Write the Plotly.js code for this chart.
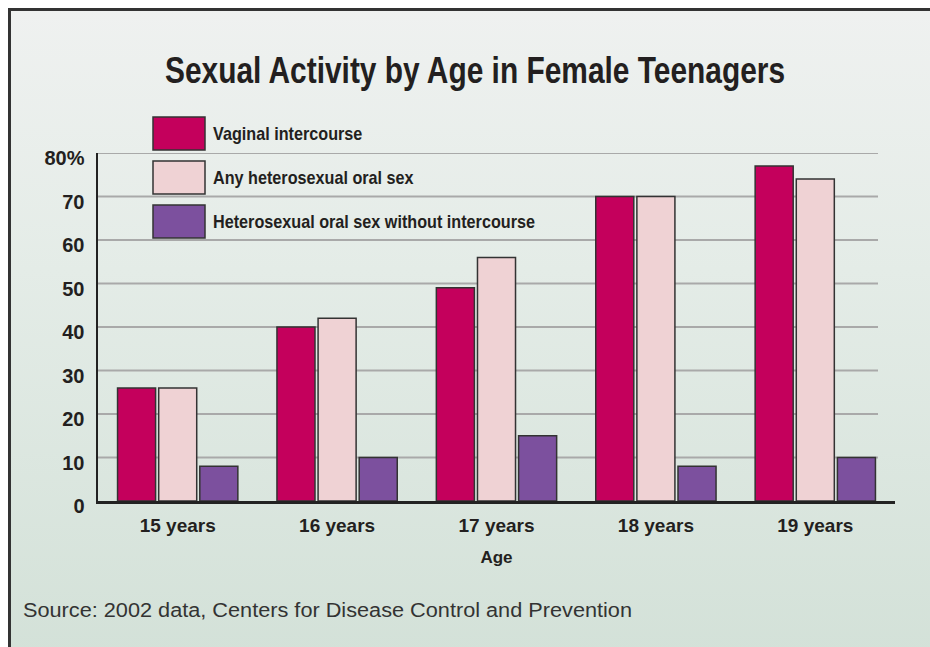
<!DOCTYPE html>
<html>
<head>
<meta charset="utf-8">
<script src="https://cdn.plot.ly/plotly-3.0.1.min.js"></script>
<style>
  html, body { margin: 0; padding: 0; background: #ffffff; }
  #wrap { position: relative; width: 930px; height: 647px; overflow: hidden; background: #ffffff; }
  #frame { position: absolute; left: 8px; top: 8px; width: 930px; height: 647px;
           border-left: 3px solid #333333; border-top: 3px solid #333333;
           background: linear-gradient(to bottom, #eff1f0 0%, #e4ece7 40%, #d3e1d8 100%); }
  #chart { position: absolute; left: 0; top: 0; width: 930px; height: 647px; }
</style>
</head>
<body>
<div id="wrap"><div id="frame"></div><div id="chart"></div></div>
<script>
// ---- data ----
const categories = ["15 years", "16 years", "17 years", "18 years", "19 years"];
const seriesNames = ["Vaginal intercourse", "Any heterosexual oral sex", "Heterosexual oral sex without intercourse"];
const vaginal = [26, 40, 49, 70, 77];
const anyOral = [26, 42, 56, 70, 74];
const oralWithout = [8, 10, 15, 8, 10];
const yTickVals = [0, 10, 20, 30, 40, 50, 60, 70, 80];
const yTickText = ["0", "10", "20", "30", "40", "50", "60", "70", "80%"];
const gridVals = [10, 20, 30, 40, 50, 60, 70, 80];

// ---- styling ----
const colors = ["#c4005c", "#efd2d4", "#7c509e"];
const W = 930, H = 647;
const M = {l: 98, r: 35, t: 153, b: 146};
const PW = W - M.l - M.r, PH = H - M.t - M.b;
const px2x = p => (p - M.l) / PW;
const px2y = p => (H - M.b - p) / PH;
const textColor = "#231f20";
const boldFont = "Liberation Sans, Arial, sans-serif";

const series = [vaginal, anyOral, oralWithout];
const traces = series.map((vals, i) => ({
  type: "bar",
  x: categories,
  y: vals,
  name: seriesNames[i],
  marker: {color: colors[i], line: {color: "#333333", width: 1.5}},
  hoverinfo: "x+y+name",
  showlegend: false
}));

const shapes = [];
gridVals.forEach(v => shapes.push({
  type: "line", layer: "below", xref: "paper", yref: "y",
  x0: 0, x1: px2x(878), y0: v, y1: v,
  line: {color: "#a9a9a9", width: 2}
}));
// legend swatches
const legTops = [117, 161, 205];
const legH = 33;
const annotations = [];
seriesNames.forEach((name, i) => {
  shapes.push({
    type: "rect", xref: "paper", yref: "paper",
    x0: px2x(153), x1: px2x(205), y0: px2y(legTops[i] + legH), y1: px2y(legTops[i]),
    fillcolor: colors[i], line: {color: "#333333", width: 1.5}
  });
  annotations.push({
    xref: "paper", yref: "paper", x: px2x(211), y: px2y(legTops[i] + legH / 2),
    xanchor: "left", yanchor: "middle", align: "left", showarrow: false, text: name,
    font: {family: boldFont, size: 19, weight: "bold", color: textColor}
  });
});
annotations.push({
  xref: "paper", yref: "paper", x: px2x(21), y: px2y(610),
  xanchor: "left", yanchor: "middle", align: "left", showarrow: false,
  text: "Source: 2002 data, Centers for Disease Control and Prevention",
  font: {family: boldFont, size: 20, color: "#333333"}
});

const layout = {
  width: W, height: H,
  margin: M,
  paper_bgcolor: "rgba(0,0,0,0)",
  plot_bgcolor: "rgba(0,0,0,0)",
  barmode: "group",
  bargap: 0.226,
  bargroupgap: 0.075,
  title: {
    text: "Sexual Activity by Age in Female Teenagers",
    x: 475 / W, xanchor: "center", xref: "container",
    y: 1 - 70 / H, yanchor: "middle", yref: "container",
    font: {family: boldFont, size: 36, weight: "bold", color: textColor}
  },
  xaxis: {
    type: "category",
    range: [-0.5, 4.5],
    showgrid: false, zeroline: false,
    showline: true, linecolor: "#222222", linewidth: 2.5,
    ticks: "", ticklabelstandoff: 6,
    tickfont: {family: boldFont, size: 19, weight: "bold", color: textColor},
    title: {text: "Age", standoff: 16,
      font: {family: boldFont, size: 17, weight: "bold", color: textColor}},
    fixedrange: true
  },
  yaxis: {
    range: [0, 80],
    tickvals: yTickVals, ticktext: yTickText,
    showgrid: false, zeroline: false,
    showline: true, linecolor: "#222222", linewidth: 2.5,
    ticks: "", ticklabelstandoff: 7, ticklabelshift: 5,
    tickfont: {family: boldFont, size: 20, weight: "bold", color: textColor},
    fixedrange: true
  },
  shapes: shapes,
  annotations: annotations,
  showlegend: false
};

function condense(el, target) {
  if (!el) return;
  el.setAttribute("textLength", target);
  el.setAttribute("lengthAdjust", "spacingAndGlyphs");
}

Plotly.newPlot("chart", traces, layout, {displayModeBar: false, staticPlot: true}).then(gd => {
  // the original typeface is a condensed grotesque: fit the texts to its widths
  condense(gd.querySelector(".gtitle"), 620);
  const ann = gd.querySelectorAll(".annotation-text");
  if (ann.length >= 4) {
    const factor = 322 / ann[2].getComputedTextLength();
    for (let i = 0; i < 3; i++) condense(ann[i], ann[i].getComputedTextLength() * factor);
    condense(ann[3], 609);
  }
});
</script>
</body>
</html>
